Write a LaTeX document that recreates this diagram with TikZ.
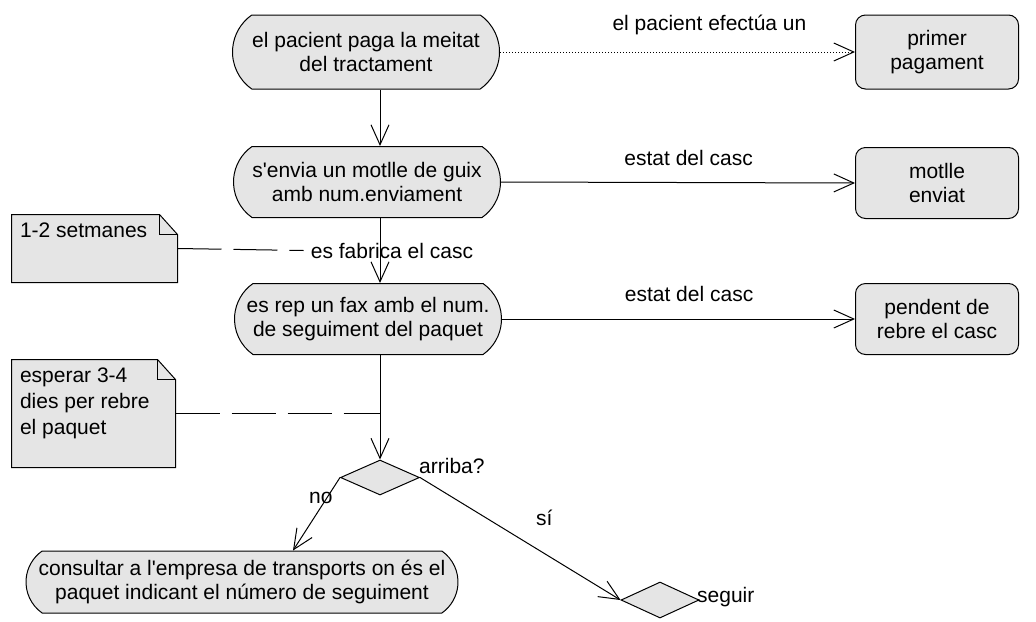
\documentclass[tikz,border=0pt]{standalone}
\usepackage{fontspec}
\setmainfont{Liberation Sans}
\usetikzlibrary{positioning, arrows.meta, shapes.misc, shapes.geometric}

\tikzset{
    actstate/.style={rounded rectangle, rounded rectangle arc length=110, draw, fill=black!10,
        align=center, minimum width=137.5pt, minimum height=35.5pt, inner sep=2pt},
    objbox/.style={rectangle, rounded corners=5pt, draw, fill=black!10, align=center,
        minimum width=81.5pt, minimum height=35.5pt},
    decision/.style={diamond, draw, fill=black!10, inner sep=0pt},
    notebox/.style={rectangle, inner sep=0pt},
    notetext/.style={anchor=north west, align=left, inner sep=4pt},
    notefill/.style={draw, fill=black!10},
    flow/.style={-{Straight Barb[length=10pt, width=9pt]}},
    notelink/.style={dash pattern=on 22pt off 6pt},
}

\begin{document}
\begin{tikzpicture}[x=0.5pt, y=-0.5pt, line width=0.5pt, font=\fontsize{10.5}{12}\selectfont]
    \useasboundingbox (0,0) rectangle (1036,621);
    \coordinate (col) at (380,0);

    % activity states
    \node[actstate, minimum height=37pt] (pay) at (366,52) {el pacient paga la meitat\\del tractament};
    \node[actstate] (mould) at (367,182) {s\textquotesingle envia un motlle de guix\\amb num.enviament};
    \node[actstate] (fax) at (368,319) {es rep un fax amb el num.\\de seguiment del paquet};
    \node[actstate, minimum width=220pt, minimum height=31pt] (ask) at (242,582)
        {consultar a l\textquotesingle empresa de transports on és el\\paquet indicant el número de seguiment};

    % objects
    \node[objbox, minimum height=37pt] (first) at (937,52) {primer\\pagament};
    \node[objbox] (sent) at (937,183) {motlle\\enviat};
    \node[objbox] (pend) at (937,319) {pendent de\\rebre el casc};

    % decisions
    \node[decision, minimum width=39.5pt, minimum height=17.5pt] (arr) at (380,477.5) {};
    \node[decision, minimum width=39pt, minimum height=18pt] (go) at (660,600) {};
    \node[anchor=base west] at (412,473) {arriba?};
    \node[anchor=base west] at (690,602) {seguir};

    % flows
    \draw[flow] (pay.south -| col) -- (mould.north -| col);
    \draw[flow] (mould.south -| col) -- node[xshift=6pt] (fab) {es fabrica el casc} (fax.north -| col);
    \draw[flow] (fax.south -| col) -- (arr.north);
    \draw[flow] (arr.west) -- node[pos=0.28, xshift=-3pt] {no} ([xshift=25.5pt]ask.north);
    \draw[flow] (arr.east) -- node[pos=0.62, yshift=18pt] {sí} (go.west);

    \draw[flow, densely dotted] (pay.east) -- node[pos=0.59, above=5pt] {el pacient efectúa un} (first.west);
    \draw[flow] (mould.east) -- node[pos=0.53, above=5pt] {estat del casc} (sent.west);
    \draw[flow] (fax.east) -- node[pos=0.53, above=5pt] {estat del casc} (pend.west);

    % notes
    \node[notebox, minimum width=82.5pt, minimum height=33.5pt] (wk) at (94.5,248.5) {};
    \draw[notefill] (wk.south west) |- ([xshift=-9pt]wk.north east) -- ([yshift=-10pt]wk.north east) |- cycle;
    \draw ([xshift=-9pt]wk.north east) |- ([yshift=-10pt]wk.north east);
    \node[notetext] at (wk.north west) {1-2 setmanes};

    \node[notebox, minimum width=81.5pt, minimum height=53.5pt] (wait) at (93.5,413.5) {};
    \draw[notefill] (wait.south west) |- ([xshift=-9pt]wait.north east) -- ([yshift=-10pt]wait.north east) |- cycle;
    \draw ([xshift=-9pt]wait.north east) |- ([yshift=-10pt]wait.north east);
    \node[notetext, font=\fontsize{10.5}{13}\selectfont] at (wait.north west) {esperar 3-4\\dies per rebre\\el paquet};

    \draw[notelink] (wk.east) -- (fab.west);
    \draw[notelink] (wait.east) -- (wait.east -| col);
\end{tikzpicture}
\end{document}
